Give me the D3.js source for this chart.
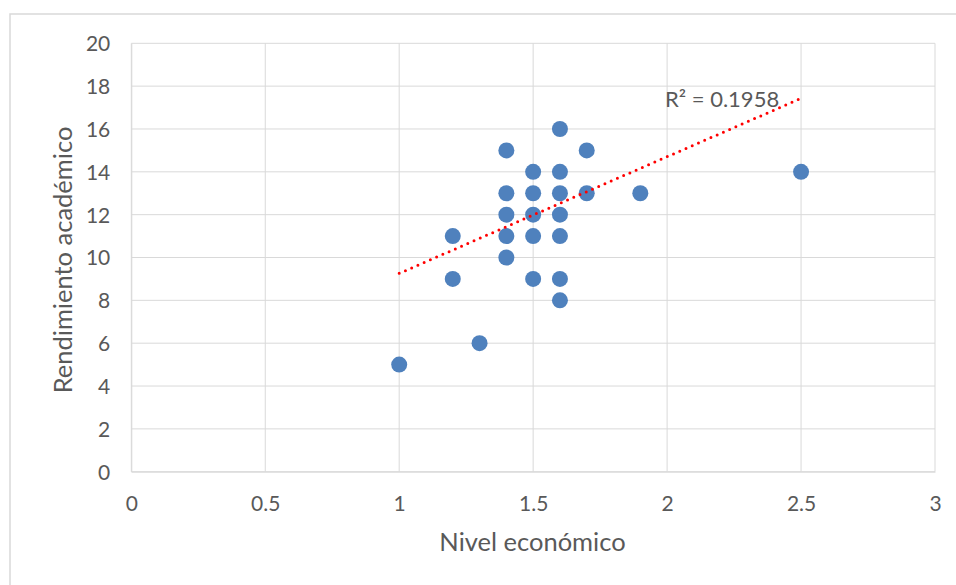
<!DOCTYPE html>
<html><head><meta charset="utf-8">
<script src="https://cdn.jsdelivr.net/npm/d3@7"></script>
<style>body{margin:0;background:#fff;} svg{display:block;font-family:Lato,"Open Sans",sans-serif;}</style>
</head><body>
<svg id="c" width="956" height="585"></svg>
<script>
const xVals = [1, 1.2, 1.2, 1.3, 1.4, 1.4, 1.4, 1.4, 1.4, 1.5, 1.5, 1.5, 1.5, 1.5, 1.6, 1.6, 1.6, 1.6, 1.6, 1.6, 1.6, 1.7, 1.7, 1.9, 2.5];
const yVals = [5, 11, 9, 6, 15, 13, 12, 11, 10, 14, 13, 12, 11, 9, 16, 14, 13, 12, 11, 9, 8, 15, 13, 13, 14];
const xTicks = [0, 0.5, 1, 1.5, 2, 2.5, 3];
const yTicks = [0, 2, 4, 6, 8, 10, 12, 14, 16, 18, 20];
const trendX = [1, 2.5];
const trendY = [9.26, 17.43];
const r2Label = "R² = 0.1958";
const xTitle = "Nivel económico";
const yTitle = "Rendimiento académico";

const svg = d3.select("#c");
const L = 131.3, R = 935, T = 43.3, B = 471.7;
const x = d3.scaleLinear().domain([0, 3]).range([L, R]);
const y = d3.scaleLinear().domain([0, 20]).range([B, T]);
const FONT = "Lato,'Open Sans',sans-serif";

// chart border
svg.append("rect").attr("x", 10).attr("y", 14).attr("width", 960).attr("height", 600)
  .attr("fill", "none").attr("stroke", "#d9d9d9").attr("stroke-width", 1.5);

const grid = "#d9d9d9";
svg.append("g").selectAll("line").data(yTicks).join("line")
  .attr("x1", L).attr("x2", R).attr("y1", d => y(d)).attr("y2", d => y(d))
  .attr("stroke", grid).attr("stroke-width", 1);
svg.append("g").selectAll("line").data(xTicks).join("line")
  .attr("y1", T).attr("y2", B).attr("x1", d => x(d)).attr("x2", d => x(d))
  .attr("stroke", grid).attr("stroke-width", 1);

const xa = svg.append("g").attr("transform", `translate(0,${B})`)
  .call(d3.axisBottom(x).tickValues(xTicks).tickFormat(d => String(d)).tickSize(0));
xa.select(".domain").attr("stroke", "#d9d9d9");
xa.selectAll("text").attr("y", 39).attr("dy", 0).attr("fill", "#595959")
  .style("font-size", "21px").style("font-family", FONT);
const ya = svg.append("g").attr("transform", `translate(${L},0)`)
  .call(d3.axisLeft(y).tickValues(yTicks).tickFormat(d => String(d)).tickSize(0).tickPadding(21));
ya.select(".domain").attr("stroke", "#d9d9d9");
ya.selectAll("text").attr("dy", "0.35em").attr("fill", "#595959")
  .style("font-size", "21px").style("font-family", FONT);

// points
const pts = xVals.map((v, i) => ({x: v, y: yVals[i]}));
svg.append("g").selectAll("circle").data(pts).join("circle")
  .attr("cx", d => x(d.x)).attr("cy", d => y(d.y)).attr("r", 8)
  .attr("fill", "#4f81bd");

// trendline
svg.append("path").datum(trendX.map((v, i) => [v, trendY[i]]))
  .attr("d", d3.line().x(d => x(d[0])).y(d => y(d[1])))
  .attr("fill", "none").attr("stroke", "#ff0000").attr("stroke-width", 3)
  .attr("stroke-linecap", "round").attr("stroke-dasharray", "0 6.8");

svg.append("text").attr("x", 665).attr("y", 107).text(r2Label)
  .attr("fill", "#595959").style("font-size", "22px");

svg.append("text").attr("x", 532.5).attr("y", 551).attr("text-anchor", "middle")
  .text(xTitle).attr("fill", "#595959").style("font-size", "25.5px");
svg.append("text").attr("transform", `translate(72,260) rotate(-90)`)
  .attr("text-anchor", "middle").text(yTitle).attr("fill", "#595959").style("font-size", "25.5px");
</script>
</body></html>
